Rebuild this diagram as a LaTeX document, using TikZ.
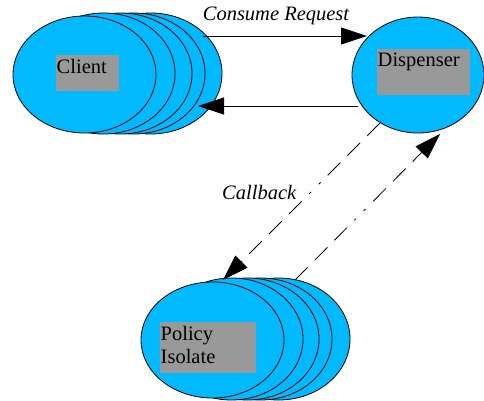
\documentclass[tikz,border=0pt]{standalone}
\usepackage{fontspec}
\setmainfont{Liberation Serif}
\newfontfamily\labelfont{Liberation Serif}
\usetikzlibrary{shapes.geometric,arrows.meta}

\definecolor{bubble}{RGB}{0,185,255}
\definecolor{panel}{RGB}{153,153,153}

\tikzset{
  bubble/.style={ellipse, draw=black, line width=0.8pt, fill=bubble,
    inner sep=0pt, outer sep=0pt},
  panel/.style={rectangle, fill=panel, inner sep=0pt, outer sep=0pt, anchor=north west},
  caption/.style={anchor=north west, inner xsep=0.5pt, inner ysep=4pt, align=left,
    font=\labelfont\fontsize{20.5}{23}\selectfont},
  msg/.style={font=\labelfont\fontsize{20.5}{23}\selectfont\itshape, inner sep=0pt},
  flow/.style={line width=0.8pt, -{Triangle[length=26pt,width=17pt]}},
  dashdot/.style={dash pattern=on 18pt off 10pt on 18pt off 10pt on 18pt off 10pt
    on 2.5pt off 11pt on 2.5pt off 11pt},
}

\begin{document}
\begin{tikzpicture}[x=1pt, y=-1pt]
\useasboundingbox (0,0) rectangle (484,400);

% Client: a stack of instances, drawn back to front
\node[bubble, minimum width=143pt, minimum height=121pt] (client5) at (150.5,73.5) {};
\node[bubble, minimum width=143pt, minimum height=121pt] (client4) at (133.5,73.5) {};
\node[bubble, minimum width=143pt, minimum height=121pt] (client3) at (120.5,73.5) {};
\node[bubble, minimum width=143pt, minimum height=121pt] (client2) at (103.5,73.5) {};
\node[bubble, minimum width=143pt, minimum height=117pt] (client1) at (84.5,74.5) {};
\node[panel, minimum width=63pt, minimum height=36pt] (clientbox) at (56,55) {};
\node[caption] (clienttext) at (clientbox.north west) {Client};

% Dispenser
\node[bubble, minimum width=132pt, minimum height=116pt] (disp) at (418,75) {};
\node[panel, minimum width=93pt, minimum height=46pt] (dispbox) at (377,49) {};
\node[caption] (disptext) at (dispbox.north west) {Dispenser};

% Policy isolate: a stack of instances, drawn back to front
\node[bubble, minimum width=143pt, minimum height=122pt] (pol5) at (278.5,339) {};
\node[bubble, minimum width=143pt, minimum height=122pt] (pol4) at (260.5,339) {};
\node[bubble, minimum width=143pt, minimum height=122pt] (pol3) at (247.5,339) {};
\node[bubble, minimum width=143pt, minimum height=122pt] (pol2) at (231.5,339) {};
\node[bubble, minimum width=143pt, minimum height=116pt] (pol1) at (212.5,340) {};
\node[panel, minimum width=96pt, minimum height=51pt] (polbox) at (160,322) {};
\node[caption, text width=95pt] (poltext) at (polbox.north west) {Policy\\Isolate};

% Connector end points
\coordinate (reqout) at (203,36);
\coordinate (reqin)  at (367,36);
\coordinate (repout) at (358,106);
\coordinate (repin)  at (198,106);
\coordinate (cbout)  at (380,123);
\coordinate (cbin)   at (223,280);
\coordinate (retout) at (295,280);
\coordinate (retin)  at (440,134);

% Request / reply between client and dispenser
\draw[flow] (reqout) -- (reqin);
\draw[flow] (repout) -- (repin);
\node[msg, anchor=base] (reqlabel) at (276,20) {Consume Request};

% Callback to the policy isolate and back
\draw[flow, dashdot] (cbout) -- (cbin);
\draw[flow, dashdot] (retout) -- (retin);
\node[msg, anchor=base west] (cblabel) at (222,199) {Callback};
\end{tikzpicture}
\end{document}
